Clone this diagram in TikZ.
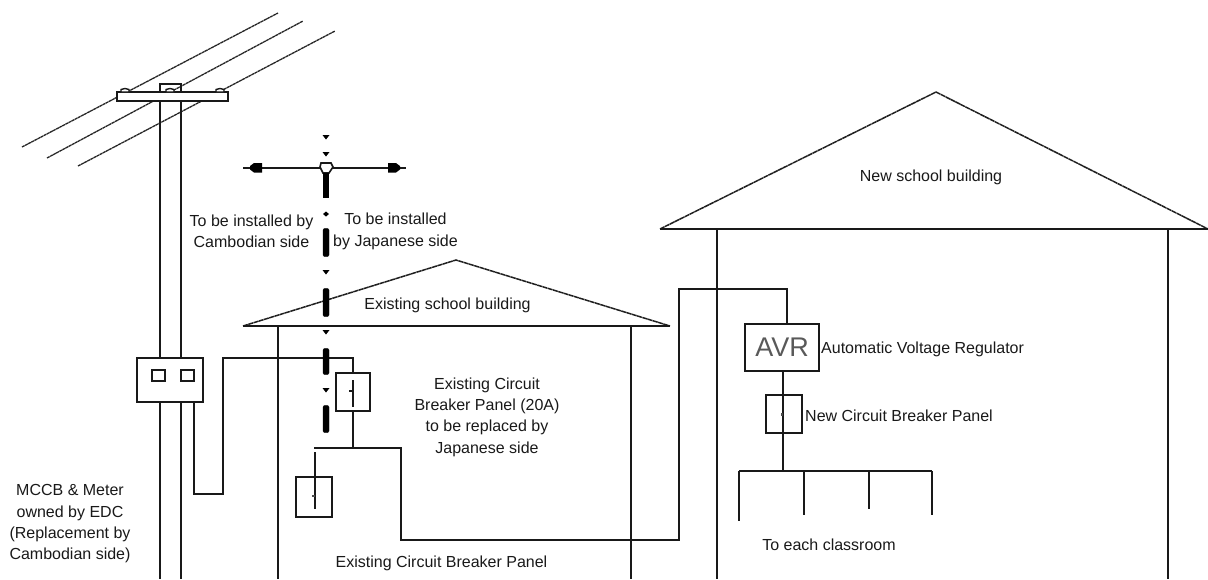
\documentclass[tikz,border=0pt]{standalone}
\usepackage{fontspec}
\setmainfont{Liberation Sans}
\begin{document}
\begin{tikzpicture}[x=1pt,y=-1pt,
  ln/.style={draw=black!90,line width=1.6pt},
  wirel/.style={draw=black!85,line width=1.3pt,dash pattern=on 3pt off 0.5pt},
  roofl/.style={draw=black!88,line width=1.5pt,dash pattern=on 5pt off 0.5pt},
  hv/.style={fill=black,draw=black,line width=0.3pt,rounded corners=1pt},
  boxn/.style={draw=black!90,line width=1.6pt,inner sep=0pt,outer sep=0pt,anchor=north west},
  lab/.style={font=\fontsize{16}{21.3}\selectfont,align=center,inner sep=0pt,text=black!90}]
\useasboundingbox (0,0) rectangle (1208,579);
% overhead wires
\draw[wirel] (22,147) -- (278,13);
\draw[wirel] (47,158) -- (303,21);
\draw[wirel] (78,166) -- (335,31);
% cross arm and pole
\draw[ln,fill=white] (117,92) rectangle (228,101);
\draw[ln] (160,92) -- (160,84) -- (181,84) -- (181,92);
\foreach \x in {125,170,220}{\draw[ln,fill=white,line width=1.4pt] (\x-4,92) -- (\x-4,89.5) to[bend left=25] (\x+4,89.5) -- (\x+4,92) -- cycle;}
\draw[ln] (160,101) -- (160,358) (181,101) -- (181,358);
% meter box
\node[boxn,minimum width=66pt,minimum height=44pt] (meter) at (137,358) {};
\node[boxn,minimum width=13pt,minimum height=11pt] (m1) at (152,370) {};
\node[boxn,minimum width=13pt,minimum height=11pt] (m2) at (181,370) {};
\draw[ln] (160,402) -- (160,579) (181,402) -- (181,579);
% buildings
\draw[roofl] (243,326) -- (456,260) -- (670,326);
\draw[ln] (243,326) -- (670,326);
\draw[ln] (278,326) -- (278,579) (631,326) -- (631,579);
\draw[roofl] (660,229) -- (936,92) -- (1208,229);
\draw[ln] (660,229) -- (1208,229);
\draw[ln] (717,229) -- (717,579) (1168,229) -- (1168,579);
% breakers
\node[boxn,minimum width=34pt,minimum height=38pt] (cb1) at (336,373) {};
\node[boxn,minimum width=36pt,minimum height=40pt] (cb2) at (296,477) {};
\node[boxn,minimum width=74pt,minimum height=47pt,font=\fontsize{27}{28}\selectfont,text=black!65] (avr) at (745,324) {\raisebox{-3pt}{AVR}\hspace{3pt}};
\node[boxn,minimum width=36pt,minimum height=38pt] (cb3) at (766,395) {};
% wiring
\draw[ln] (194,402) -- (194,494) -- (223,494) -- (223,358) -- (353,358) -- (353,373);
\draw[ln] (353,411) -- (353,448);
\draw[ln] (314,448) -- (401,448) -- (401,540) -- (679,540) -- (679,289) -- (787,289) -- (787,324);
\draw[ln] (315,452) -- (315,509);
\draw[ln] (353,380) -- (353,407) (349,391) -- (352,391);
\fill[black!70] (312,494.5) rectangle (314.5,497);
\draw[ln] (783,371) -- (783,471);
\fill[black!70] (780.5,413) rectangle (783,415.5);
\draw[ln] (739,471) -- (932,471);
\draw[ln] (739,471) -- (739,521) (804,471) -- (804,515) (869,471) -- (869,509) (932,471) -- (932,515);
% dash-dot boundary
\draw[ln] (243,167.7) -- (320,167.7) (333,167.7) -- (406,167.7);
\draw[ln,fill=white] (321,163) -- (331,163) -- (333,167) -- (329,173) -- (323,173) -- (320,167) -- cycle;
\fill[black] (250,166) -- (254,163) -- (262,163) -- (262,172.5) -- (254,172.5) -- (250,169.5) -- cycle;
\fill[black] (400,166) -- (396,163) -- (388,163) -- (388,172.5) -- (396,172.5) -- (400,169.5) -- cycle;
\foreach \y in {137,154,272,332,390}{\fill[black] (322.5,\y-2) -- (329.5,\y-2) -- (326,\y+2.5) -- cycle;}
\foreach \y in {214}{\fill[black] (326,\y-2.5) -- (329,\y) -- (326,\y+2.5) -- (323,\y) -- cycle;}
\fill[black] (323,173) rectangle (329,198);
\foreach \a/\b in {228/257,288/317,348/375,405/433}{\draw[hv] (323,\a+1) -- (326,\a) -- (329,\a+1) -- (329,\b-1) -- (326,\b) -- (323,\b-1) -- cycle;}
% labels
\node[lab] (t1) at (251.5,231.5) {To be installed by\\Cambodian side};
\node[lab] (t2) at (395.5,231.5) {To be installed\\by Japanese side};
\node[lab] (t3) at (447.5,305) {Existing school building};
\node[lab] (t4) at (931,177) {New school building};
\node[lab] (t5) at (487,417) {Existing Circuit\\Breaker Panel (20A)\\to be replaced by\\Japanese side};
\node[lab,anchor=west] (t6) at (821,349) {Automatic Voltage Regulator};
\node[lab,anchor=west] (t7) at (805,416) {New Circuit Breaker Panel};
\node[lab] (t8) at (70,524) {MCCB \& Meter\\owned by EDC\\(Replacement by\\Cambodian side)};
\node[lab] (t9) at (441.5,563) {Existing Circuit Breaker Panel};
\node[lab] (t10) at (829,545) {To each classroom};
\end{tikzpicture}
\end{document}
